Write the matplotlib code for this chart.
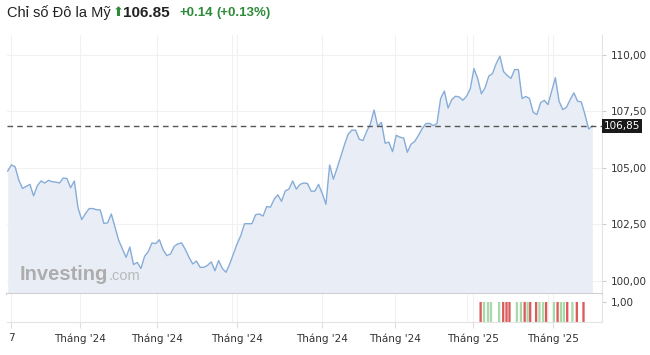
import numpy as np
import matplotlib.pyplot as plt
from matplotlib.transforms import blended_transform_factory

# gia dong cua hang ngay (doc tu hinh)
gia = [104.86, 105.13, 105.05, 104.46, 104.09, 104.18, 104.27, 103.76, 104.21, 104.42,
       104.33, 104.45, 104.39, 104.37, 104.33, 104.55, 104.53, 104.12, 104.42, 103.23,
       102.71, 102.97, 103.20, 103.20, 103.15, 103.14, 102.54, 102.57, 102.96, 102.38,
       101.79, 101.42, 101.04, 101.50, 100.72, 100.82, 100.55, 101.09, 101.30, 101.68,
       101.65, 101.82, 101.37, 101.12, 101.19, 101.53, 101.64, 101.68, 101.39, 101.04,
       100.75, 100.88, 100.60, 100.60, 100.69, 100.84, 100.45, 100.90, 100.55, 100.38,
       100.75, 101.19, 101.64, 102.01, 102.53, 102.53, 102.53, 102.93, 102.96, 102.87,
       103.29, 103.26, 103.61, 103.81, 103.52, 103.98, 104.06, 104.42, 104.06, 104.27,
       104.33, 104.31, 103.97, 103.97, 104.27, 103.87, 103.39, 105.13, 104.50, 104.98,
       105.50, 106.02, 106.49, 106.67, 106.67, 106.27, 106.21, 106.61, 106.94, 107.56,
       106.84, 107.01, 106.09, 106.14, 105.72, 106.44, 106.36, 106.32, 105.69, 106.05,
       106.17, 106.44, 106.73, 106.96, 106.97, 106.87, 106.96, 108.07, 108.40, 107.65,
       108.02, 108.17, 108.14, 107.99, 108.17, 108.50, 109.39, 108.96, 108.28, 108.54,
       109.06, 109.17, 109.61, 109.94, 109.26, 109.09, 108.96, 109.35, 109.35, 108.07,
       108.16, 108.07, 107.46, 107.36, 107.88, 107.99, 107.80, 108.40, 108.99, 107.95,
       107.58, 107.68, 108.02, 108.32, 107.95, 107.92, 107.36, 106.72, 106.85]
gia_cuoi = 106.85

nhan_x = ["7", "Tháng '24", "Tháng '24", "Tháng '24", "Tháng '24", "Tháng '24",
          "Tháng '25", "Tháng '25"]
vi_tri_x = [0.9, 19.5, 40.4, 62.0, 85.0, 104.7, 125.8, 147.4]
luoi_them = [60.6, 124.1, 146.0]

muc_y = [100, 102.5, 105, 107.5, 110]

# cot chi bao phia duoi
cot_x = [127.8, 128.7, 129.8, 130.6, 132.8, 133.9, 134.8, 135.6, 137.6, 138.7,
         139.7, 140.5, 141.2, 142.8, 143.7, 144.7, 145.5, 147.6, 148.6, 149.5,
         150.3, 151.2, 152.6, 153.8, 155.6]
cot_mau = "rgggg" "rrrgg" "rgrrg" "grgrg" "grgrr"
cot_h = [1.0] * len(cot_x)

W, H = 650, 355
fig = plt.figure(figsize=(W / 100, H / 100), dpi=100)
ax = fig.add_axes([7 / W, 61 / H, 595 / W, 259 / H])
ax2 = fig.add_axes([7 / W, 33 / H, 595 / W, 28 / H])

x = np.arange(len(gia))
y0 = 99.42
ax.fill_between(x, gia, y0, color="#e9eef6", lw=0)
ax.plot(x, gia, color="#86acd8", lw=1)
ax.axhline(gia_cuoi, color="#555555", lw=1, ls=(0, (4, 3)))
ax.set_ylim(y0, 110.88)
ax.set_xlim(-0.19, 160.6)
ax2.set_xlim(-0.19, 160.6)

# luoi
for v in vi_tri_x + luoi_them:
    ax.axvline(v, color="#f1f1f1", lw=0.8, zorder=0)
    ax2.axvline(v, color="#f1f1f1", lw=0.8, zorder=0)
for v in muc_y:
    ax.axhline(v, color="#f1f1f1", lw=0.8, zorder=0)

ax.yaxis.tick_right()
ax.set_yticks(muc_y)
ax.set_yticklabels([f"{v:.2f}".replace(".", ",") for v in muc_y])
ax.tick_params(axis="y", length=3, color="#cccccc", labelsize=7.5, labelcolor="#333333", pad=3)
ax.set_xticks([])
for s in ["top", "left"]:
    ax.spines[s].set_visible(False)
ax.spines["right"].set_color("#e3e3e3")
ax.spines["bottom"].set_color("#cfcfcf")
ax.spines["bottom"].set_linewidth(1.5)

# nhan gia hien tai
tr = blended_transform_factory(ax.transAxes, ax.transData)
ax.text(1.003, gia_cuoi, "106,85", transform=tr, ha="left", va="center", fontsize=7.5,
        color="white", bbox=dict(boxstyle="square,pad=0.2", fc="#1a1a1a", ec="none"))

# bang duoi
mau = {"r": "#dd5a5a", "g": "#a9d9ab"}
cot = ax2.bar(cot_x, cot_h, width=0.62, color=[mau[c] for c in cot_mau], lw=0)
for p in cot:
    p.set_snap(False)
ax2.set_ylim(0, 1.4)
ax2.yaxis.tick_right()
ax2.set_yticks([1.0])
ax2.set_yticklabels(["1,00"])
ax2.tick_params(axis="y", length=3, color="#cccccc", labelsize=7.5, labelcolor="#333333", pad=3)
ax2.set_xticks(vi_tri_x)
ax2.set_xticklabels(nhan_x)
ax2.tick_params(axis="x", length=4, color="#dddddd", labelsize=7.5, labelcolor="#333333", pad=4)
ax2.spines["top"].set_visible(False)
ax2.spines["left"].set_visible(False)
ax2.spines["right"].set_color("#e3e3e3")
ax2.spines["bottom"].set_color("#e3e3e3")

# logo
ax.text(0.022, 0.055, "Investing", transform=ax.transAxes, fontsize=14.5, fontweight="bold",
        color="#adadad", family="Liberation Sans", ha="left", va="baseline")
ax.text(0.170, 0.055, ".com", transform=ax.transAxes, fontsize=10.5,
        color="#b8b8b8", family="Liberation Sans", ha="left", va="baseline")

# tieu de
ty = 1 - 13 / H
fig.text(7 / W, ty, "Chỉ số Đô la Mỹ", fontsize=10.5, color="#222222",
         family="Liberation Sans", va="center")
fig.text(113 / W, ty, "⬆", fontsize=9.5, color="#2e8b3a", family=["DejaVu Sans"], va="center")
fig.text(123 / W, ty, "106.85", fontsize=11, fontweight="bold", color="#222222",
         family="Liberation Sans", va="center")
fig.text(180 / W, ty, "+0.14", fontsize=9.5, fontweight="bold", color="#2e8b3a",
         family="Liberation Sans", va="center")
fig.text(216 / W, ty, "(+0.13%)", fontsize=9.5, fontweight="bold", color="#2e8b3a",
         family="Liberation Sans", va="center")

fig.savefig("out.png", dpi=100)
